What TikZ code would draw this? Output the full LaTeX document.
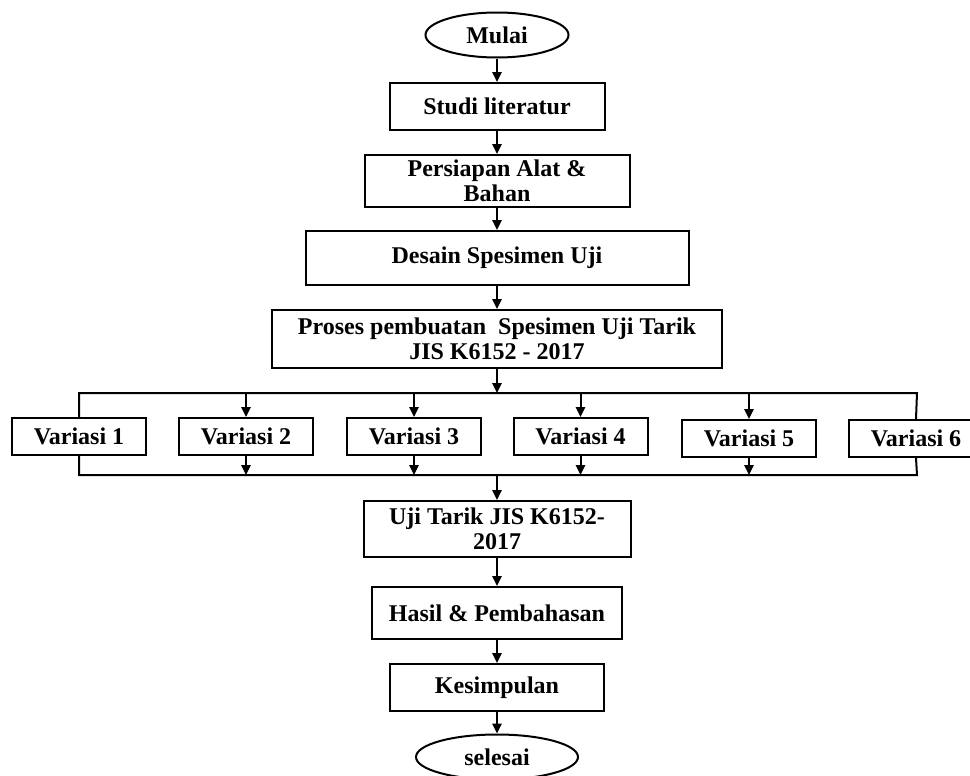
\documentclass[tikz,border=0pt]{standalone}
\usepackage{fontspec}
\setmainfont{Liberation Serif}
\usetikzlibrary{shapes.geometric}
\usetikzlibrary{arrows.meta}

\begin{document}
\begin{tikzpicture}[x=0.5pt,y=-0.5pt,
	box/.style={draw,line width=1pt,align=center,inner sep=0pt,font=\bfseries\fontsize{12}{12.3}\selectfont},
	oval/.style={box,ellipse},
	arr/.style={-{Triangle[length=5pt,width=4.6pt]},line width=1pt},
	bus/.style={line width=1pt}]
	\useasboundingbox (0,0) rectangle (970,776);

	\node[oval,minimum width=71.5pt,minimum height=22.5pt] (mulai) at (497,35) {Mulai};
	\node[box,minimum width=107.5pt,minimum height=23.5pt] (studi) at (497,106.5) {Studi literatur};
	\node[box,minimum width=132.5pt,minimum height=26pt] (alat) at (497,181) {Persiapan Alat \&\\Bahan};
	\node[box,minimum width=191.5pt,minimum height=27pt] (desain) at (497,258) {Desain Spesimen Uji};
	\node[box,minimum width=225pt,minimum height=29pt] (proses) at (497,339) {Proses pembuatan\ \ Spesimen Uji Tarik\\JIS K6152 - 2017};

	\coordinate (tl) at (79,393);
	\coordinate (tr) at (917,393);
	\coordinate (bl) at (79,475);
	\coordinate (br) at (917,475);

	\node[box,minimum width=67pt,minimum height=18.5pt] (v1) at (79,436.5) {Variasi 1};
	\node[box,minimum width=67pt,minimum height=18.5pt] (v2) at (246,436.5) {Variasi 2};
	\node[box,minimum width=67pt,minimum height=18.5pt] (v3) at (414,436.5) {Variasi 3};
	\node[box,minimum width=67pt,minimum height=18.5pt] (v4) at (580.5,436.5) {Variasi 4};
	\node[box,minimum width=67pt,minimum height=18.5pt] (v5) at (749,438.5) {Variasi 5};
	\node[box,minimum width=67pt,minimum height=18.5pt] (v6) at (916,438.5) {Variasi 6};

	\node[box,minimum width=133.5pt,minimum height=28pt] (uji) at (497,529) {Uji Tarik JIS K6152-\\2017};
	\node[box,minimum width=125pt,minimum height=26pt] (hasil) at (497,613) {Hasil \& Pembahasan};
	\node[box,minimum width=107pt,minimum height=23.5pt] (simpul) at (497,687.5) {Kesimpulan};
	\node[oval,minimum width=81pt,minimum height=22.5pt] (selesai) at (497,757) {selesai};

	\draw[arr] (mulai) -- (studi);
	\draw[arr] (studi) -- (alat);
	\draw[arr] (alat) -- (desain);
	\draw[arr] (desain) -- (proses);
	\draw[arr] (proses) -- (proses |- tl);

	\draw[bus] (v1.north) |- (tr) -- (v6.north);
	\draw[arr] (v2 |- tl) -- (v2);
	\draw[arr] (v3 |- tl) -- (v3);
	\draw[arr] (v4 |- tl) -- (v4);
	\draw[arr] (v5 |- tl) -- (v5);

	\draw[bus] (v1.south) |- (br) -- (v6.south);
	\draw[arr] (v2) -- (v2 |- bl);
	\draw[arr] (v3) -- (v3 |- bl);
	\draw[arr] (v4) -- (v4 |- bl);
	\draw[arr] (v5) -- (v5 |- bl);

	\draw[arr] (uji |- bl) -- (uji);
	\draw[arr] (uji) -- (hasil);
	\draw[arr] (hasil) -- (simpul);
	\draw[arr] (simpul) -- (selesai);
\end{tikzpicture}
\end{document}
